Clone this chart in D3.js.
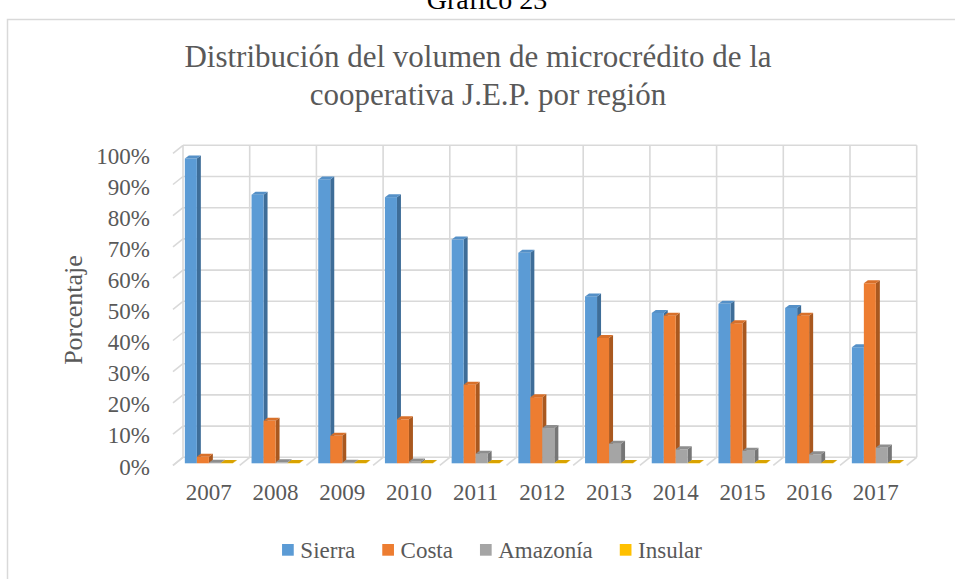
<!DOCTYPE html>
<html><head><meta charset="utf-8">
<script src="https://cdn.jsdelivr.net/npm/d3@7"></script>
<style>body{margin:0;background:#fff}svg{display:block}text{font-family:"Liberation Serif","Times New Roman",serif}</style>
</head><body><svg id="c" width="955" height="579"></svg>
<script>
const years = ["2007","2008","2009","2010","2011","2012","2013","2014","2015","2016","2017"];
const seriesNames = ["Sierra","Costa","Amazonía","Insular"];
const sierra   = [97.7, 86.1, 91.0, 85.3, 71.7, 67.5, 53.5, 48.2, 51.1, 49.8, 37.2];
const costa    = [2.1, 13.6, 8.8, 14.1, 25.2, 21.2, 40.2, 47.3, 44.9, 47.3, 57.7];
const amazonia = [0.2, 0.3, 0.2, 0.6, 3.1, 11.3, 6.3, 4.5, 4.0, 2.9, 5.1];
const insular  = [0.1, 0.1, 0.1, 0.1, 0.1, 0.1, 0.1, 0.1, 0.1, 0.1, 0.1];
const yTicks = [0,10,20,30,40,50,60,70,80,90,100];
const seriesValues = [sierra, costa, amazonia, insular];

const front = ["#5B9BD5","#ED7D31","#A5A5A5","#FFC000"];
const side  = ["#3E6D98","#A9581F","#767676","#B88A00"];
const top_  = ["#5590C7","#D8702A","#8E8E8E","#D9A300"];
const txt = "#595959";

const svg = d3.select("#c");
svg.append("rect").attr("width",955).attr("height",579).attr("fill","#fff");
// outer chart border
svg.append("rect").attr("x",7.5).attr("y",19.5).attr("width",1000).attr("height",1000)
  .attr("fill","none").attr("stroke","#d9d9d9").attr("stroke-width",1.5);

svg.append("text").attr("x",487).attr("y",9).attr("text-anchor","middle")
  .attr("font-size",28).attr("fill","#000").text("Gráfico 23");

const title = svg.append("text").attr("text-anchor","middle").attr("font-size",31).attr("fill",txt);
title.append("tspan").attr("x",478).attr("y",67).text("Distribución del volumen de microcrédito de la");
title.append("tspan").attr("x",488).attr("y",105).text("cooperativa J.E.P. por región");

// geometry
const wallL = 183, wallR = 916.7, wallB = 457.3, wallT = 145.3;
const depth = [-10, 8];          // back wall -> front of floor
const barF = [-7.5, 6];          // back wall -> bar front face
const barD = [4, -3];            // bar front -> bar back

const x = d3.scaleBand().domain(years).range([wallL, wallR]).padding(0);
const y = d3.scaleLinear().domain([0,100]).range([wallB, wallT]);
const groupW = 48;
const xs = d3.scaleBand().domain(seriesNames).range([0, groupW]).padding(0);

const grid = svg.append("g").attr("stroke","#d9d9d9").attr("stroke-width",1.6).attr("fill","none");
// horizontal gridlines on back wall + side wall diagonals
yTicks.forEach(t => {
  grid.append("line").attr("x1",wallL).attr("x2",wallR).attr("y1",y(t)).attr("y2",y(t));
  grid.append("line").attr("x1",wallL).attr("y1",y(t)).attr("x2",wallL+depth[0]).attr("y2",y(t)+depth[1]);
});
// vertical gridlines and floor diagonals
const bounds = years.map(d => x(d)).concat([wallR]);
bounds.forEach(bx => {
  grid.append("line").attr("x1",bx).attr("x2",bx).attr("y1",wallT).attr("y2",wallB);
  grid.append("line").attr("x1",bx).attr("y1",wallB).attr("x2",bx+depth[0]).attr("y2",wallB+depth[1]);
});

// bars
const bars = svg.append("g");
years.forEach((yr, i) => {
  const cx = x(yr) + x.bandwidth()/2 + barF[0];
  const gx = cx - groupW/2;
  seriesNames.forEach((s, k) => {
    const v = seriesValues[k][i];
    const x0 = gx + xs(s), w = xs.bandwidth();
    const yb = y(0) + barF[1], yt = y(v) + barF[1];
    // side face
    bars.append("path").attr("fill",side[k])
      .attr("d",`M${x0+w},${yb}L${x0+w+barD[0]},${yb+barD[1]}L${x0+w+barD[0]},${yt+barD[1]}L${x0+w},${yt}Z`);
    // front face
    bars.append("rect").attr("x",x0).attr("y",yt).attr("width",w).attr("height",Math.max(0,yb-yt)).attr("fill",front[k]);
    // top face
    bars.append("path").attr("fill",top_[k])
      .attr("d",`M${x0},${yt}L${x0+w},${yt}L${x0+w+barD[0]},${yt+barD[1]}L${x0+barD[0]},${yt+barD[1]}Z`);
  });
});

// y tick labels
const yl = d3.scaleLinear().domain([0,100]).range([466.7, 155.8]);
svg.append("g").selectAll("text").data(yTicks).join("text")
  .attr("x",150).attr("y",d=>yl(d)+7.8).attr("text-anchor","end")
  .attr("font-size",23).attr("fill",txt).text(d=>d+"%");

// x labels
svg.append("g").selectAll("text").data(years).join("text")
  .attr("x",d=>x(d)+x.bandwidth()/2+barF[0]).attr("y",500).attr("text-anchor","middle")
  .attr("font-size",23).attr("fill",txt).text(d=>d);

// axis title
svg.append("text").attr("transform","translate(82,310) rotate(-90)").attr("text-anchor","middle")
  .attr("font-size",26).attr("fill",txt).text("Porcentaje");

// legend
const lg = svg.append("g");
let lx = 0;
const items = [];
seriesNames.forEach((s,k) => {
  const g = lg.append("g");
  g.append("rect").attr("x",lx).attr("y",-6).attr("width",11.7).attr("height",11.7).attr("fill",front[k]);
  const t = g.append("text").attr("x",lx+18.3).attr("y",8).attr("font-size",23).attr("fill",txt).text(s);
  const tw = t.node().getComputedTextLength();
  lx += 18.3 + tw + 27;
});
const totalW = lx - 27;
lg.attr("transform",`translate(${492 - totalW/2},550)`);
</script></body></html>
